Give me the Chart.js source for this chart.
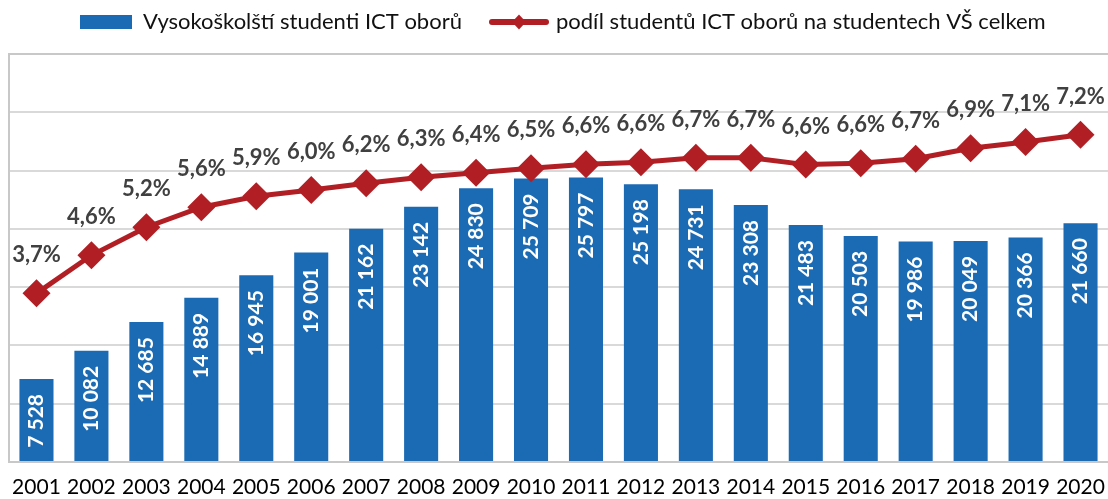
<!DOCTYPE html>
<html>
<head>
<meta charset="utf-8">
<script src="https://cdn.jsdelivr.net/npm/chart.js@4/dist/chart.umd.min.js"></script>
<style>
  body { margin: 0; background: #fff; }
  #wrap { width: 1108px; height: 499px; }
</style>
</head>
<body>
<div id="wrap"><canvas id="myChart" width="1108" height="499"></canvas></div>
<script>
// data
var years = ['2001','2002','2003','2004','2005','2006','2007','2008','2009','2010',
             '2011','2012','2013','2014','2015','2016','2017','2018','2019','2020'];
var students = [7528,10082,12685,14889,16945,19001,21162,23142,24830,25709,
                25797,25198,24731,23308,21483,20503,19986,20049,20366,21660];
var share = [3.72,4.56,5.18,5.62,5.86,6.0,6.15,6.28,6.38,6.48,
             6.57,6.61,6.71,6.71,6.56,6.59,6.69,6.92,7.06,7.22];

var barLabel = 'Vysokoškolští studenti ICT oborů';
var lineLabel = 'podíl studentů ICT oborů na studentech VŠ celkem';

var blue = '#1b6bb4';
var red = '#b11f24';
var font = 'Lato, "Open Sans", sans-serif';

function fmtNum(v){
  return String(v).replace(/\B(?=(\d{3})+(?!\d))/g, ' ');
}
function fmtPct(v){
  return v.toFixed(1).replace('.', ',') + '%';
}

// frame around plot area + custom legend
var frame = {
  id: 'frame',
  beforeDatasetsDraw: function(chart){
    var a = chart.chartArea, ctx = chart.ctx;
    ctx.save();
    ctx.strokeStyle = '#c8c8c8';
    ctx.lineWidth = 2;
    ctx.strokeRect(a.left, a.top, a.right - a.left + 4, a.bottom - a.top);
    ctx.restore();
  },
  afterDraw: function(chart){
    var ctx = chart.ctx;
    ctx.save();
    ctx.font = '22px ' + font;
    ctx.textBaseline = 'middle';
    ctx.fillStyle = blue;
    ctx.fillRect(80, 15, 52, 14);
    ctx.fillStyle = '#111';
    ctx.fillText(barLabel, 143, 22);
    ctx.strokeStyle = red;
    ctx.lineWidth = 6;
    ctx.lineCap = 'round';
    ctx.beginPath(); ctx.moveTo(492, 22); ctx.lineTo(546, 22); ctx.stroke();
    ctx.fillStyle = red;
    ctx.beginPath();
    ctx.moveTo(519, 14.5); ctx.lineTo(526, 22); ctx.lineTo(519, 29.5); ctx.lineTo(512, 22);
    ctx.closePath(); ctx.fill();
    ctx.fillStyle = '#111';
    ctx.fillText(lineLabel, 556, 22);
    ctx.restore();
  }
};

// value labels on bars and points
var valueLabels = {
  id: 'valueLabels',
  afterDatasetsDraw: function(chart){
    var ctx = chart.ctx;
    ctx.save();
    var bars = chart.getDatasetMeta(0).data;
    ctx.font = 'bold 21px ' + font;
    ctx.fillStyle = '#fff';
    ctx.textAlign = 'right';
    ctx.textBaseline = 'middle';
    bars.forEach(function(b, i){
      ctx.save();
      ctx.translate(b.x, b.y + 15);
      ctx.rotate(-Math.PI / 2);
      ctx.fillText(fmtNum(students[i]), 0, 0);
      ctx.restore();
    });
    var pts = chart.getDatasetMeta(1).data;
    ctx.font = 'bold 22px ' + font;
    ctx.fillStyle = '#404040';
    ctx.textAlign = 'center';
    pts.forEach(function(p, i){
      ctx.fillText(fmtPct(share[i]), p.x, p.y - 38);
    });
    ctx.restore();
  }
};

var ctx = document.getElementById('myChart');
var chart = new Chart(ctx, {
  data: {
    labels: years,
    datasets: [
      {
        type: 'bar',
        label: barLabel,
        data: students,
        backgroundColor: blue,
        yAxisID: 'y',
        order: 2,
        barPercentage: 0.62,
        categoryPercentage: 1
      },
      {
        type: 'line',
        label: lineLabel,
        data: share,
        borderColor: red,
        backgroundColor: red,
        borderWidth: 5,
        pointStyle: 'rectRot',
        pointRadius: 14,
        pointBorderWidth: 0,
        pointBackgroundColor: red,
        yAxisID: 'y2',
        order: 1,
        tension: 0
      }
    ]
  },
  options: {
    responsive: false,
    animation: false,
    devicePixelRatio: 1,
    layout: { autoPadding: false, padding: { left: 9, top: 54, right: -1, bottom: 0 } },
    plugins: {
      legend: { display: false },
      tooltip: { enabled: false }
    },
    scales: {
      x: {
        grid: { display: false, drawTicks: false },
        border: { display: true, color: '#c8c8c8', width: 2 },
        ticks: { color: '#000', font: { family: font, size: 21 }, padding: 13, maxRotation: 0 },
        afterFit: function(s){ s.height = 37; s.paddingLeft = 0; s.paddingRight = 0; }
      },
      y: {
        position: 'left',
        min: 0,
        max: 37000,
        ticks: { display: false, stepSize: 5000 },
        grid: { color: '#d9d9d9', lineWidth: 2, drawTicks: false },
        border: { display: false },
        afterFit: function(s){ s.width = 0; }
      },
      y2: {
        display: false,
        position: 'right',
        min: 0,
        max: 9
      }
    }
  },
  plugins: [frame, valueLabels]
});
</script>
</body>
</html>
